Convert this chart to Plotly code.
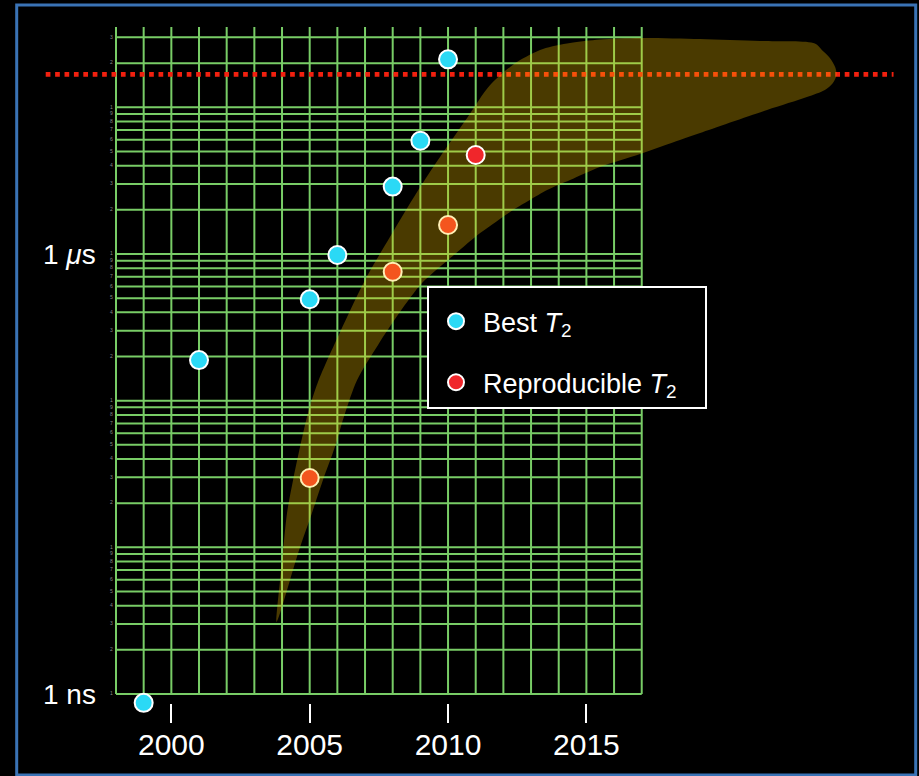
import plotly.graph_objects as go

# ---------------- data ----------------
best_years = [1999, 2001, 2005, 2006, 2008, 2009, 2010]
best_t2_ns = [0.87, 189, 491, 984, 2880, 5920, 21250]

repro_years = [2005, 2008, 2010]
repro_t2_ns = [29.7, 757, 1577]

repro_new_years = [2011]
repro_new_t2_ns = [4730]

threshold_years = [1995.46, 2026.1]
threshold_ns = 16800

# shaded trend band (outline): upper/left edge from the tip, then lower/right edge back to the tip
band_upper_years = [2003.80, 2003.93, 2004.05, 2004.18, 2004.40, 2004.65, 2004.94, 2005.30,
                    2006.10, 2007.00, 2007.90, 2008.88, 2009.71, 2010.69, 2011.52, 2012.49,
                    2013.43, 2014.41, 2015.49, 2016.94, 2019.11, 2021.27, 2023.26,
                    2023.51, 2023.80, 2023.99, 2024.04]
band_upper_ns = [3.10, 5.99, 10.0, 17.1, 28.8, 48.3, 82.4, 134,
                 294, 665, 1306, 2648, 4585, 8460, 14190, 20370,
                 25000, 27470, 28990, 29700, 29240, 28330, 27230,
                 24600, 21700, 18840, 16600]
band_lower_years = [2023.91, 2023.62, 2022.97, 2021.53, 2019.11, 2018.38, 2016.94, 2015.49,
                    2014.41, 2013.58, 2012.96, 2012.35, 2011.52, 2011.16, 2010.00, 2009.06,
                    2008.26, 2007.47, 2006.71, 2006.28, 2005.91, 2005.48, 2005.08, 2004.65,
                    2004.29, 2003.93, 2003.80]
band_lower_ns = [14650, 13130, 11750, 9590, 6680, 5985, 4800, 3918,
                 3195, 2730, 2335, 1995, 1552, 1390, 910, 634,
                 402, 240, 138, 82.4, 48.3, 28.8, 17.1, 10.0,
                 5.99, 3.57, 3.10]

# graph-paper grid
grid_years = list(range(1998, 2018))
grid_bottom_ns = 1
grid_top_ns = 35300
grid_ns = [k * 10 ** d for d in range(0, 5) for k in range(1, 10) if k * 10 ** d <= 30000]
grid_digit_labels = [str(int(v))[0] for v in grid_ns]

x_tick_vals = [2000, 2005, 2010, 2015]
x_tick_text = ["2000", "2005", "2010", "2015"]
y_tick_vals = [1, 1000]
y_tick_text = ["1 ns", "1 <i>μ</i>s"]

# ---------------- styles ----------------
FONT = "Liberation Sans, Arial, Helvetica, sans-serif"
GRID_COLOR = "#78cc66"
BLUE = "#2bd9f5"
RED = "#f0262b"
BAND = "rgba(255,200,0,0.29)"
NB = "\u00a0"

fig = go.Figure()

# grid lines
gx, gy = [], []
for yr in grid_years:
    gx += [yr, yr, None]
    gy += [grid_bottom_ns, grid_top_ns, None]
for v in grid_ns:
    gx += [grid_years[0], grid_years[-1], None]
    gy += [v, v, None]
fig.add_trace(go.Scatter(x=gx, y=gy, mode="lines", line=dict(color=GRID_COLOR, width=2),
                         showlegend=False, hoverinfo="skip"))

# tiny graph-paper digits
fig.add_trace(go.Scatter(x=[grid_years[0] - 0.12] * len(grid_ns), y=grid_ns, mode="text",
                         text=grid_digit_labels, textposition="middle left",
                         textfont=dict(size=5, color="#8a8a8a", family=FONT),
                         showlegend=False, hoverinfo="skip", cliponaxis=False))

# threshold dashed line
fig.add_trace(go.Scatter(x=threshold_years, y=[threshold_ns] * len(threshold_years), mode="lines",
                         line=dict(color="#f2200f", width=4.7, dash="4.7px,4.7px"),
                         showlegend=False, hoverinfo="skip"))

# reproducible points (under the band)
fig.add_trace(go.Scatter(x=repro_years, y=repro_t2_ns, mode="markers",
                         name="Reproducible <i>T</i><sub>2</sub>" + NB * 3,
                         legendgroup="repro", legendrank=2,
                         marker=dict(color=RED, size=18, line=dict(color="white", width=2)),
                         cliponaxis=False))

# band
fig.add_trace(go.Scatter(x=band_upper_years + band_lower_years, y=band_upper_ns + band_lower_ns,
                         mode="lines", fill="toself", fillcolor=BAND,
                         line=dict(width=0, shape="spline", smoothing=0.8),
                         showlegend=False, hoverinfo="skip"))

# newest reproducible point (above the band)
fig.add_trace(go.Scatter(x=repro_new_years, y=repro_new_t2_ns, mode="markers",
                         name="Reproducible <i>T</i><sub>2</sub>",
                         legendgroup="repro", showlegend=False,
                         marker=dict(color=RED, size=18, line=dict(color="white", width=2)),
                         cliponaxis=False))

# best points
fig.add_trace(go.Scatter(x=best_years, y=best_t2_ns, mode="markers", name="Best <i>T</i><sub>2</sub>",
                         legendgroup="best", legendrank=1,
                         marker=dict(color=BLUE, size=18, line=dict(color="white", width=2)),
                         cliponaxis=False))

L, R, T, B = 40, 19, 5, 73
W, H = 919, 776
pw, ph = W - L - R, H - T - B

fig.update_layout(
    width=W, height=H,
    margin=dict(l=L, r=R, t=T, b=B, pad=0),
    paper_bgcolor="black", plot_bgcolor="black",
    font=dict(family=FONT, color="white"),
    hovermode=False,
    xaxis=dict(range=[1995.2533, 2026.334], showgrid=False, zeroline=False, showline=False,
               tickmode="array", tickvals=x_tick_vals, ticktext=x_tick_text,
               ticks="outside", ticklen=19, tickwidth=2, tickcolor="white",
               ticklabelstandoff=-4,
               tickfont=dict(size=30, color="white", family=FONT)),
    yaxis=dict(type="log", range=[-0.0614, 4.6977], showgrid=False, zeroline=False, showline=False,
               tickmode="array", tickvals=y_tick_vals, ticktext=y_tick_text, ticks="",
               ticklabelposition="inside", ticklabeloverflow="allow",
               tickfont=dict(size=28, color="white", family=FONT)),
    legend=dict(x=(427 - L) / pw, y=(H - B - 286) / ph, xanchor="left", yanchor="top",
                bgcolor="black", bordercolor="white", borderwidth=2,
                font=dict(size=27, color="white", family=FONT),
                title=dict(text=NB, font=dict(size=7)),
                itemwidth=44, indentation=0,
                traceorder="grouped", tracegroupgap=23, itemsizing="trace"),
    shapes=[dict(type="rect", xref="paper", yref="paper",
                 x0=(16.7 - L) / pw, x1=(915.7 - L) / pw,
                 y0=(H - B - 775) / ph, y1=(H - B - 5) / ph,
                 line=dict(color="#3a73b5", width=3), fillcolor="rgba(0,0,0,0)", layer="above")],
)

fig.write_html("out.html", config={"displayModeBar": False},
               post_script="document.body.style.margin='0px';document.body.style.backgroundColor='black';")
